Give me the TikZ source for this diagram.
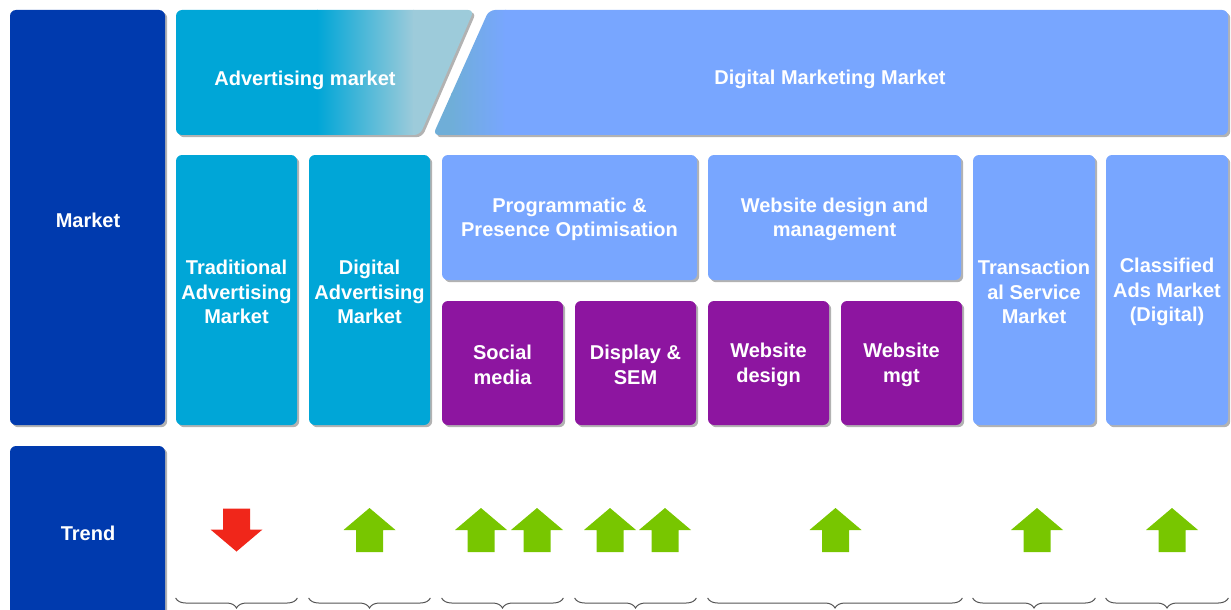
\documentclass[tikz,border=0pt]{standalone}
\usepackage{fontspec}
\setmainfont{Liberation Sans}
\usetikzlibrary{shadows,fit,decorations.pathreplacing}

\definecolor{navyM}{HTML}{003AAE}
\definecolor{cyanM}{HTML}{00A6D7}
\definecolor{paleM}{HTML}{9DCBDA}
\definecolor{skyM}{HTML}{78A6FF}
\definecolor{steelM}{HTML}{6FAED8}
\definecolor{purpM}{HTML}{8D15A0}
\definecolor{upM}{HTML}{78C600}
\definecolor{downM}{HTML}{F0261A}
\definecolor{braceM}{HTML}{555555}

\tikzset{
  cell/.style={rounded corners=3pt, inner sep=0pt,
    drop shadow={shadow xshift=1.1pt, shadow yshift=-1.1pt, opacity=0.3, fill=black}},
  label/.style={text=white, font=\bfseries\fontsize{10}{12.3}\selectfont,
    align=center, inner sep=0pt, yshift=-1pt},
  grpbrace/.style={draw=braceM, line width=0.5pt,
    decorate, decoration={brace, mirror, amplitude=5pt}},
  pics/uparrow/.style={code={
    \fill[upM] (0,-22) -- (26,0) -- (13.5,0) -- (13.5,22) -- (-13.5,22)
      -- (-13.5,0) -- (-26,0) -- cycle;}},
  pics/downarrow/.style={code={
    \fill[downM] (0,22) -- (26,0) -- (13.5,0) -- (13.5,-21) -- (-13.5,-21)
      -- (-13.5,0) -- (-26,0) -- cycle;}},
}

\begin{document}
\begin{tikzpicture}[x=0.5pt, y=-0.5pt]
\useasboundingbox (0,0) rectangle (1231,610);

% row headers
\node[cell, fill=navyM, fit={(10,10)(165,425)}] (mkt) {};
\node[cell, fill=navyM, fit={(10,446)(165,616)}] (trend) {};
\node[label] at (88,218) {Market};
\node[label] at (88,531) {Trend};

% top banner: advertising market / digital marketing market
\fill[black, opacity=0.3, rounded corners=3pt, xshift=1.1pt, yshift=-1.1pt]
  (176,10) -- (474,10) -- (420,135) -- (176,135) -- cycle;
\fill[black, opacity=0.3, rounded corners=3pt, xshift=1.1pt, yshift=-1.1pt]
  (489,10) -- (1228,10) -- (1228,135) -- (433,135) -- cycle;
\begin{scope}
  \clip[rounded corners=3pt] (176,10) -- (474,10) -- (420,135) -- (176,135) -- cycle;
  \fill[cyanM] (170,0) rectangle (318,140);
  \shade[left color=cyanM, right color=paleM] (317,0) rectangle (414,140);
  \fill[paleM] (413,0) rectangle (480,140);
\end{scope}
\begin{scope}
  \clip[rounded corners=3pt] (489,10) -- (1228,10) -- (1228,135) -- (433,135) -- cycle;
  \fill[steelM] (425,0) rectangle (452,140);
  \shade[left color=steelM, right color=skyM] (451,0) rectangle (506,140);
  \fill[skyM] (505,0) rectangle (1235,140);
\end{scope}
\node[label] (adv) at (305,78) {Advertising market};
\node[label] (dmm) at (830,77) {Digital Marketing Market};

% market segments
\node[cell, fill=cyanM, fit={(176,155)(297,425)}] (trad) {};
\node[cell, fill=cyanM, fit={(309,155)(430,425)}] (digad) {};
\node[cell, fill=skyM, fit={(442,155)(697,280)}] (prog) {};
\node[cell, fill=skyM, fit={(708,155)(961,280)}] (webdm) {};
\node[cell, fill=purpM, fit={(442,301)(563,425)}] (social) {};
\node[cell, fill=purpM, fit={(575,301)(696,425)}] (display) {};
\node[cell, fill=purpM, fit={(708,301)(829,425)}] (webdes) {};
\node[cell, fill=purpM, fit={(841,301)(962,425)}] (webmgt) {};
\node[cell, fill=skyM, fit={(973,155)(1095,425)}] (trans) {};
\node[cell, fill=skyM, fit={(1106,155)(1228,425)}] (class) {};

\node[label] at (trad) {Traditional\\Advertising\\Market};
\node[label] at (digad) {Digital\\Advertising\\Market};
\node[label] at (prog) {Programmatic \&\\Presence Optimisation};
\node[label] at (webdm) {Website design and\\management};
\node[label] at (social) {Social\\media};
\node[label] at (display) {Display \&\\SEM};
\node[label] at (webdes) {Website\\design};
\node[label] at (webmgt) {Website\\mgt};
\node[label] at (trans) {Transaction\\al Service\\Market};
\node[label] at (class) {Classified\\Ads Market\\(Digital)};

% trend arrows
\pic at (236.5,529.5) {downarrow};
\pic at (369.5,530) {uparrow};
\pic at (481,530) {uparrow};
\pic at (537,530) {uparrow};
\pic at (610,530) {uparrow};
\pic at (665,530) {uparrow};
\pic at (835.5,530) {uparrow};
\pic at (1037,530) {uparrow};
\pic at (1172,530) {uparrow};

% group braces
\coordinate (bline) at (0,598);
\draw[grpbrace] (trad.west |- bline) -- (trad.east |- bline);
\draw[grpbrace] (digad.west |- bline) -- (digad.east |- bline);
\draw[grpbrace] (social.west |- bline) -- (social.east |- bline);
\draw[grpbrace] (display.west |- bline) -- (display.east |- bline);
\draw[grpbrace] (webdes.west |- bline) -- (webmgt.east |- bline);
\draw[grpbrace] (trans.west |- bline) -- (trans.east |- bline);
\draw[grpbrace] (class.west |- bline) -- (class.east |- bline);
\end{tikzpicture}
\end{document}
